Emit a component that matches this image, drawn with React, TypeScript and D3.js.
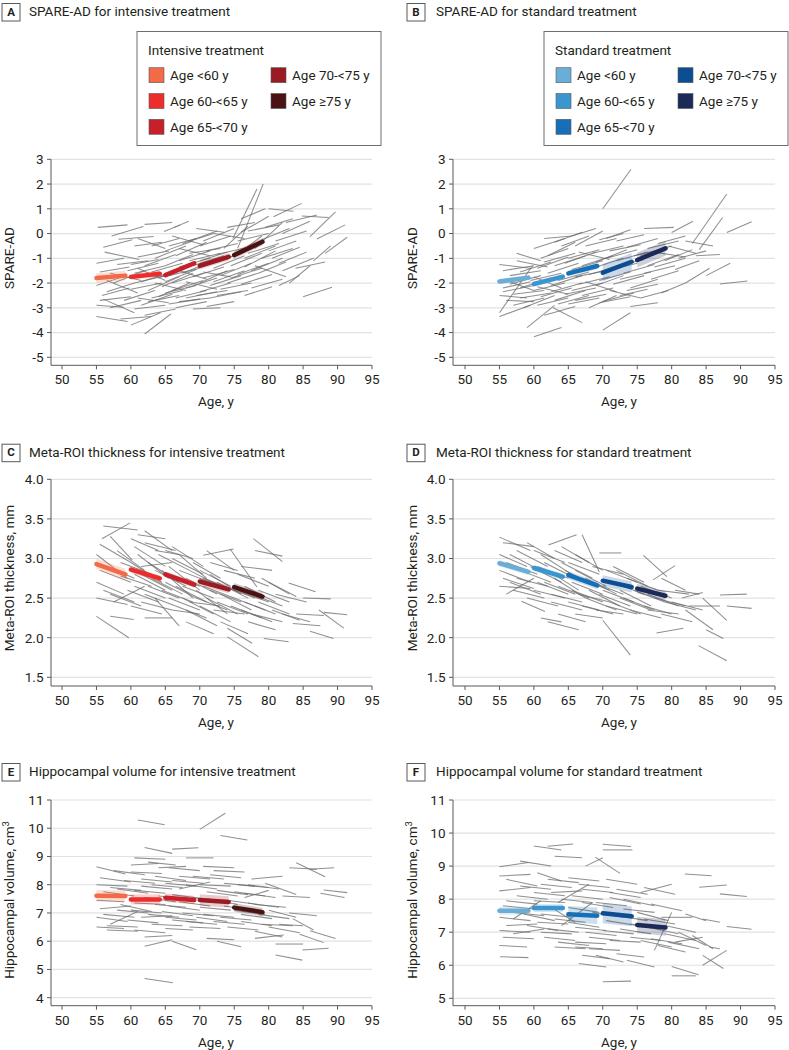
import React from 'react';
import * as d3 from 'd3';

const FONT = "Roboto, 'Noto Sans', sans-serif";

const AGE_TICKS = [50, 55, 60, 65, 70, 75, 80, 85, 90, 95];
const SPARE_TICKS = [-5, -4, -3, -2, -1, 0, 1, 2, 3];
const META_TICKS = [1.5, 2.0, 2.5, 3.0, 3.5, 4.0];
const HIPPO_INT_TICKS = [4, 5, 6, 7, 8, 9, 10, 11];
const HIPPO_STD_TICKS = [5, 6, 7, 8, 9, 10, 11];

const AGE_GROUPS = ['Age <60 y', 'Age 60-<65 y', 'Age 65-<70 y', 'Age 70-<75 y', 'Age \u226575 y'];
const INTENSIVE_COLORS = ['#f36a47', '#ec2d2b', '#c8202a', '#9b1b22', '#4b1214'];
const STANDARD_COLORS = ['#6aaed8', '#3b95cf', '#176fb7', '#0d4d92', '#1b2a57'];

type Seg = [number, number, number, number];
type Trend = [number, number, number, number, number];

// trend: [startAge, startValue, endAge, endValue, CI half-width]
const A_TREND: Trend[] = [
  [55, -1.8, 59.2, -1.7, 0.2], [60, -1.75, 64.2, -1.62, 0.12], [65, -1.68, 69.2, -1.2, 0.1],
  [70, -1.3, 74.2, -0.94, 0.15], [75, -0.87, 79.1, -0.33, 0.15],
];
const B_TREND: Trend[] = [
  [55, -1.94, 59.2, -1.78, 0.1], [60, -2.04, 64.2, -1.74, 0.1], [65, -1.61, 69.2, -1.31, 0.12],
  [70, -1.58, 74.2, -1.14, 0.35], [75, -1.07, 79.1, -0.6, 0.3],
];
const C_TREND: Trend[] = [
  [55, 2.93, 59.2, 2.8, 0.07], [60, 2.86, 64.2, 2.75, 0.04], [65, 2.8, 69.2, 2.67, 0.04],
  [70, 2.71, 74.2, 2.61, 0.05], [75, 2.64, 79.1, 2.52, 0.05],
];
const D_TREND: Trend[] = [
  [55, 2.94, 59.2, 2.83, 0.04], [60, 2.88, 64.2, 2.77, 0.04], [65, 2.79, 69.2, 2.66, 0.05],
  [70, 2.72, 74.2, 2.64, 0.07], [75, 2.62, 79.1, 2.53, 0.06],
];
const E_TREND: Trend[] = [
  [55, 7.61, 59.2, 7.6, 0.2], [60, 7.48, 64.2, 7.48, 0.18], [65, 7.54, 69.2, 7.46, 0.15],
  [70, 7.46, 74.2, 7.39, 0.2], [75, 7.19, 79.1, 7.03, 0.15],
];
const F_TREND: Trend[] = [
  [55, 7.65, 59.2, 7.65, 0.12], [60, 7.73, 64.2, 7.73, 0.12], [65, 7.54, 69.2, 7.5, 0.25],
  [70, 7.57, 74.2, 7.48, 0.3], [75, 7.22, 79.1, 7.14, 0.25],
];

// individual trajectories: [startAge, startValue, endAge, endValue]
const A_SUBJECTS: Seg[] = [
  [55.2, 0.25, 59.5, 0.35], [56.0, -0.55, 60.2, -0.25], [57.2, -0.1, 61.8, 0.28], [55.0, -1.2, 59.0, -1.0],
  [55.5, -1.55, 59.8, -1.35], [56.2, -0.75, 61.2, -1.05], [55.0, -2.1, 59.3, -1.7], [56.5, -2.35, 60.5, -2.0],
  [55.0, -2.9, 59.0, -2.98], [55.5, -2.7, 60.0, -2.55], [56.0, -2.65, 60.5, -3.2], [55.0, -3.35, 59.5, -3.55],
  [57.0, -3.0, 61.5, -2.7], [56.5, -1.9, 61.0, -2.4], [58.0, -1.25, 62.5, -1.1], [57.5, -2.0, 62.0, -1.5],
  [58.5, -3.45, 63.0, -3.35], [55.8, -2.5, 59.8, -2.2], [58.2, -0.23, 63.3, -0.12],
  [62.0, 0.37, 66.0, 0.45], [64.8, 0.08, 67.2, 0.35], [66.2, 0.24, 68.4, 0.5], [60.5, -0.5, 64.5, -0.35],
  [61.0, -0.95, 65.5, -0.7], [60.0, -1.25, 64.0, -1.05], [62.0, -1.3, 66.5, -0.85], [60.5, -1.6, 65.0, -1.3],
  [61.5, -1.95, 66.0, -1.55], [60.0, -2.25, 64.5, -2.0], [62.5, -2.3, 67.0, -1.75], [61.0, -2.6, 65.5, -2.8],
  [63.0, -2.6, 67.5, -2.3], [60.5, -3.05, 65.0, -2.9], [62.0, -3.3, 66.5, -3.05], [60.0, -3.7, 64.3, -3.2],
  [62.0, -4.06, 65.8, -3.25], [63.5, -1.0, 68.0, -0.5], [64.0, -1.8, 68.5, -1.3], [62.5, -2.75, 67.0, -2.5],
  [61.0, -1.4, 65.0, -1.9], [63.0, -0.5, 67.0, -0.2], [64.5, -2.15, 69.0, -1.6],
  [65.5, -0.5, 69.5, -0.2], [66.5, -0.9, 71.0, -0.35], [65.0, -1.3, 69.0, -0.85], [67.0, -1.1, 71.5, -0.7],
  [65.5, -1.7, 70.0, -1.4], [66.0, -2.0, 70.5, -1.6], [67.5, -1.6, 72.0, -1.1], [65.0, -2.4, 69.5, -2.1],
  [66.5, -2.6, 71.0, -2.3], [68.0, -2.2, 72.5, -1.8], [65.5, -2.85, 70.0, -2.65], [67.0, -2.75, 71.5, -2.6],
  [68.5, -0.3, 72.5, 0.1], [66.0, -0.1, 70.5, -0.45], [69.0, -1.3, 73.5, -0.9], [68.0, -1.95, 72.5, -2.25],
  [69.5, -2.5, 74.0, -2.3], [65.0, -0.7, 69.0, -0.3], [67.5, -0.4, 72.0, 0.0], [69.0, -3.05, 73.0, -3.0],
  [66.5, -1.45, 71.0, -1.85], [68.5, -0.8, 73.0, -0.6],
  [70.5, -0.3, 75.0, 0.2], [71.0, -0.7, 75.5, -0.4], [70.0, -1.1, 74.0, -0.75], [72.0, -1.4, 76.5, -0.9],
  [70.5, -1.8, 75.0, -1.45], [71.5, -2.1, 76.0, -1.7], [73.0, -1.7, 77.5, -1.2], [70.0, -2.35, 74.5, -2.0],
  [72.5, -2.5, 77.0, -2.3], [74.0, -2.0, 78.5, -1.6], [71.0, -2.95, 75.0, -2.75], [73.5, -0.6, 77.0, 0.3],
  [74.0, 0.25, 78.0, 0.45], [72.0, 0.0, 76.5, -0.2], [73.5, -1.05, 78.0, -0.55], [70.5, -1.55, 74.5, -1.75],
  [75.5, -0.6, 79.2, 2.0], [74.8, -0.2, 78.3, 1.8], [76.0, 0.6, 79.5, 1.0], [75.0, -0.95, 79.0, -0.1],
  [76.5, -1.35, 81.0, -0.7], [77.0, 0.1, 81.5, 0.35], [75.5, -1.65, 80.0, -1.2], [78.0, -0.6, 82.0, 0.45],
  [77.5, -2.2, 82.0, -1.85], [76.0, -2.05, 80.5, -1.65], [79.0, -1.0, 83.5, -0.6], [78.5, -1.6, 82.5, -1.15],
  [77.0, -0.8, 81.5, -0.4], [79.5, 0.25, 83.5, 0.6], [76.5, -2.5, 80.5, -2.15], [78.0, -1.3, 82.5, -1.75],
  [80.0, 1.0, 83.6, 0.9], [80.7, 0.68, 84.8, 1.22], [82.5, 0.45, 87.0, 0.75], [84.8, 0.71, 88.7, 0.65],
  [86.0, -0.12, 89.7, 0.88], [87.0, -0.22, 91.1, 0.35], [88.2, -0.8, 91.4, -0.15], [85.0, -2.55, 89.2, -2.17],
  [83.0, -2.0, 86.0, -1.3], [83.9, -1.4, 88.2, -1.15], [81.0, -0.3, 85.5, 0.1], [80.5, -1.0, 84.5, -0.55],
  [82.0, -1.5, 86.5, -1.0], [86.5, -1.1, 89.0, -0.5], [81.5, -2.1, 84.5, -1.7],
  [60.5, -2.0, 65.0, -1.7], [61.5, -2.9, 66.0, -2.45], [63.0, -1.55, 67.5, -1.2], [64.0, -2.55, 68.5, -2.0],
  [65.0, -1.95, 69.5, -1.45], [66.0, -2.3, 70.5, -1.9], [67.0, -1.35, 71.5, -1.0], [68.0, -2.6, 72.5, -2.35],
  [69.0, -1.75, 73.5, -1.35], [70.0, -0.5, 74.5, -0.1], [71.0, -1.25, 75.5, -0.85], [72.0, -1.95, 76.5, -1.5],
  [73.0, -2.25, 77.5, -2.0], [74.5, -1.3, 79.0, -0.8], [75.5, -0.3, 80.0, 0.0], [76.5, -1.0, 81.0, -0.5],
  [77.5, -1.5, 82.0, -1.0], [79.0, -0.25, 83.0, 0.2], [80.0, -0.7, 84.0, -0.3], [81.5, -1.2, 85.5, -0.75],
  [59.0, -2.7, 63.5, -2.3], [59.5, -1.5, 64.0, -1.2], [66.5, -3.0, 71.0, -2.75], [71.5, -2.6, 76.0, -2.35],
  [68.5, -1.1, 73.0, -0.8], [72.5, -0.85, 77.0, -0.55], [74.5, -1.8, 79.0, -1.4], [63.5, -2.0, 68.0, -2.3],
  [67.0, -0.6, 71.5, -0.9], [70.0, -2.0, 74.0, -1.5], [61.0, -0.2, 65.0, -0.6], [76.0, 0.05, 80.0, 0.7],
  [82.0, 0.0, 86.0, 0.5], [69.5, 0.2, 73.5, 0.05], [57.0, -1.6, 61.5, -1.9],
];

const B_SUBJECTS: Seg[] = [
  [55.0, -1.25, 59.5, -1.4], [55.5, -1.5, 60.0, -1.3], [55.0, -3.2, 59.8, -1.3], [55.0, -3.35, 59.5, -2.9],
  [56.0, -2.7, 60.0, -2.75], [55.5, -2.2, 59.5, -1.95], [56.5, -1.7, 61.0, -1.5], [55.0, -2.5, 59.0, -2.6],
  [57.0, -2.9, 61.5, -2.6], [57.5, -1.1, 62.0, -1.35], [58.0, -2.2, 62.5, -1.8], [56.0, -1.9, 60.0, -2.3],
  [58.5, -3.0, 63.0, -2.5], [57.0, -2.45, 61.5, -2.3], [59.0, -3.8, 63.0, -2.9], [58.0, -1.55, 62.5, -1.15],
  [60.0, -4.17, 64.0, -3.8], [61.5, -0.2, 65.5, -0.1], [61.0, -1.0, 65.0, -0.6], [60.5, -1.4, 65.0, -0.95],
  [62.0, -1.6, 66.5, -1.2], [60.0, -2.3, 64.5, -2.0], [61.0, -2.55, 65.5, -2.2], [62.5, -2.1, 67.0, -1.7],
  [60.5, -2.9, 65.0, -2.6], [62.8, -3.0, 67.0, -3.6], [61.5, -3.3, 66.0, -2.95], [63.0, -2.7, 67.5, -2.3],
  [64.0, -0.5, 68.0, -0.1], [63.5, -1.9, 68.0, -1.55], [62.0, -0.9, 66.0, -0.35], [64.5, -2.45, 69.0, -2.2],
  [60.0, -1.75, 64.0, -2.2], [63.0, -1.3, 67.5, -0.9],
  [65.5, -0.1, 69.0, 0.2], [66.0, -0.5, 70.0, 0.1], [65.0, -1.0, 69.5, -0.65], [67.0, -1.3, 71.5, -0.9],
  [66.0, -1.75, 70.5, -1.5], [68.0, -1.65, 72.5, -1.3], [65.5, -2.3, 70.0, -2.0], [67.0, -2.5, 71.5, -2.2],
  [69.0, -2.1, 73.0, -1.7], [65.0, -2.85, 69.5, -2.6], [68.0, -3.0, 72.0, -2.5], [69.5, -0.25, 73.0, 0.0],
  [66.5, -0.75, 71.0, -1.05], [68.5, -0.8, 73.0, -0.5], [69.0, -1.15, 73.5, -0.65], [67.5, -1.95, 72.0, -2.35],
  [69.5, -2.8, 74.0, -2.55],
  [70.0, 1.0, 74.1, 2.6], [70.0, -3.9, 74.0, -3.2], [70.5, -0.2, 74.0, 0.15], [71.0, -0.7, 75.5, -0.45],
  [72.0, -1.1, 76.5, -0.75], [70.5, -1.5, 75.0, -1.2], [73.0, -1.6, 77.5, -1.25], [71.5, -2.05, 76.0, -1.7],
  [74.0, -2.95, 78.0, -2.8], [72.5, -2.5, 76.5, -2.25], [70.0, -2.75, 74.5, -2.4], [73.5, -0.55, 78.0, -0.2],
  [74.0, -2.2, 78.0, -1.85], [72.0, -0.3, 76.0, -0.05],
  [76.0, 0.2, 80.3, 0.25], [75.5, -0.9, 80.0, -0.5], [76.5, -1.3, 81.0, -0.85], [77.0, -1.85, 81.0, -1.5],
  [75.5, -2.6, 79.5, -2.3], [78.0, -0.4, 82.0, -0.1], [79.0, -1.1, 83.0, -0.65], [77.5, -0.75, 82.0, -0.95],
  [76.0, -1.6, 80.5, -1.3], [78.5, -2.4, 82.0, -2.0], [79.5, -0.5, 83.5, -0.8],
  [80.0, 0.04, 83.1, 0.5], [83.0, -0.4, 88.0, 1.6], [84.0, -0.65, 87.4, 0.65], [88.0, 0.04, 91.6, 0.48],
  [87.0, -2.04, 91.0, -1.92], [85.0, -1.7, 88.5, -1.2], [82.0, -2.0, 85.5, -1.4], [81.0, -1.0, 85.0, -0.7],
  [83.5, -0.9, 87.0, -0.85], [82.0, -0.3, 86.0, -0.5], [80.5, -1.45, 84.0, -1.1],
  [55.5, -2.35, 60.0, -2.1], [56.5, -2.05, 61.0, -1.7], [58.0, -2.6, 62.5, -2.4], [59.5, -1.9, 64.0, -1.6],
  [60.5, -2.15, 65.0, -2.45], [61.5, -1.15, 66.0, -0.8], [62.5, -2.35, 67.0, -2.0], [63.5, -2.85, 68.0, -2.5],
  [64.5, -1.2, 69.0, -0.75], [65.5, -1.45, 70.0, -1.1], [66.5, -2.05, 71.0, -1.75], [67.5, -0.5, 72.0, -0.2],
  [68.5, -1.4, 73.0, -1.0], [69.5, -1.9, 74.0, -1.55], [70.5, -1.0, 75.0, -0.65], [71.5, -1.35, 76.0, -1.05],
  [72.5, -1.85, 77.0, -1.55], [73.5, -2.3, 78.0, -2.05], [74.5, -0.9, 79.0, -0.6], [76.5, -0.6, 81.0, -0.3],
  [77.5, -1.35, 82.0, -1.0], [63.0, -0.35, 67.0, 0.05], [60.0, -0.6, 64.5, -0.2], [57.5, -0.8, 61.0, -1.1],
  [66.0, -2.7, 70.5, -2.45], [71.0, -2.3, 75.5, -2.6],
];

const C_SUBJECTS: Seg[] = [
  [55.8, 3.25, 59.9, 3.45], [56.0, 3.41, 61.0, 3.36], [55.5, 3.18, 60.0, 2.95], [57.0, 3.28, 60.2, 2.98],
  [55.0, 3.05, 59.5, 2.75], [55.5, 2.85, 60.0, 2.7], [55.0, 2.7, 59.0, 2.55], [56.0, 2.6, 60.5, 2.45],
  [55.0, 2.5, 59.5, 2.42], [57.0, 2.55, 61.5, 2.4], [55.0, 2.27, 59.7, 2.0], [57.0, 2.27, 60.4, 2.23],
  [56.5, 2.9, 60.5, 2.75], [58.0, 3.1, 62.0, 2.85], [57.5, 2.45, 62.0, 2.65], [58.5, 2.78, 63.0, 2.65],
  [60.0, 3.25, 64.0, 3.1], [61.0, 3.3, 65.0, 3.25], [60.5, 3.15, 65.0, 2.9], [62.0, 3.2, 66.5, 3.1],
  [61.0, 3.05, 65.5, 2.75], [60.0, 2.95, 64.5, 2.7], [62.5, 2.95, 67.0, 2.7], [61.5, 2.8, 66.0, 2.6],
  [60.5, 2.65, 65.0, 2.5], [63.0, 2.75, 67.5, 2.55], [62.0, 2.55, 66.5, 2.4], [60.0, 2.4, 64.5, 2.3],
  [62.0, 2.25, 66.0, 2.25], [63.5, 2.5, 67.0, 2.15], [64.0, 3.05, 68.5, 2.85], [61.5, 2.9, 66.0, 2.95],
  [63.5, 3.1, 67.0, 3.05], [64.5, 2.85, 69.0, 2.5],
  [65.0, 3.1, 69.0, 3.0], [66.0, 3.0, 70.5, 2.8], [65.5, 2.9, 70.0, 2.6], [67.0, 2.85, 71.5, 2.7],
  [65.0, 2.7, 69.5, 2.5], [66.5, 2.65, 71.0, 2.45], [68.0, 2.75, 72.5, 2.55], [65.5, 2.5, 70.0, 2.35],
  [67.5, 2.5, 72.0, 2.3], [69.0, 2.95, 73.0, 2.75], [66.0, 2.35, 70.0, 2.3], [68.5, 2.45, 73.0, 2.4],
  [69.5, 2.6, 74.0, 2.3], [67.0, 3.05, 71.0, 2.75], [68.0, 2.2, 72.0, 2.05],
  [70.5, 3.04, 74.9, 3.12], [74.4, 3.12, 78.3, 2.64], [70.0, 2.85, 74.5, 2.65], [71.5, 2.8, 76.0, 2.55],
  [70.5, 2.65, 75.0, 2.5], [72.5, 2.7, 77.0, 2.5], [71.0, 2.5, 75.5, 2.3], [73.0, 2.55, 77.5, 2.35],
  [70.0, 2.4, 74.5, 2.2], [72.0, 2.35, 76.5, 2.3], [74.0, 2.12, 77.6, 1.93], [74.0, 2.01, 78.5, 1.76],
  [73.5, 2.85, 78.0, 2.75], [71.5, 2.95, 75.5, 2.85],
  [77.8, 3.25, 82.0, 2.96], [78.0, 3.1, 82.0, 3.03], [75.5, 2.8, 80.0, 2.65], [76.5, 2.65, 81.0, 2.45],
  [75.0, 2.5, 79.5, 2.35], [77.5, 2.55, 82.0, 2.4], [76.0, 2.35, 80.5, 2.2], [78.5, 2.45, 83.0, 2.3],
  [79.3, 1.99, 82.9, 1.95], [77.0, 2.2, 81.0, 2.1], [79.0, 2.75, 83.0, 2.55], [76.0, 2.9, 80.5, 2.85],
  [82.9, 2.69, 86.8, 2.58], [87.3, 2.35, 90.9, 2.12], [88.0, 2.32, 91.4, 2.29], [86.0, 2.08, 89.4, 1.99],
  [85.0, 2.5, 89.0, 2.49], [83.5, 2.18, 87.5, 2.15], [80.5, 2.35, 84.5, 2.22], [81.0, 2.55, 85.5, 2.45],
  [82.0, 2.3, 86.0, 2.2], [84.0, 2.3, 88.0, 2.28], [80.0, 2.7, 84.0, 2.52],
  [58.5, 2.95, 63.0, 2.8], [59.5, 2.6, 64.0, 2.45], [60.5, 2.8, 65.0, 2.6], [61.5, 2.45, 66.0, 2.35],
  [62.5, 2.65, 67.0, 2.5], [63.5, 2.85, 68.0, 2.65], [64.5, 2.6, 69.0, 2.45], [65.5, 2.8, 70.0, 2.65],
  [66.5, 2.4, 71.0, 2.25], [67.5, 2.65, 72.0, 2.5], [68.5, 2.85, 73.0, 2.65], [69.5, 2.5, 74.0, 2.35],
  [70.5, 2.75, 75.0, 2.6], [71.5, 2.6, 76.0, 2.45], [72.5, 2.45, 77.0, 2.3], [73.5, 2.65, 78.0, 2.5],
  [74.5, 2.4, 79.0, 2.25], [75.5, 2.6, 80.0, 2.45], [76.5, 2.45, 81.0, 2.3], [77.5, 2.3, 82.0, 2.2],
  [78.5, 2.6, 83.0, 2.45], [66.0, 3.15, 70.5, 2.9], [71.0, 3.1, 75.0, 2.85], [62.0, 3.35, 66.0, 3.1],
  [68.0, 2.35, 72.5, 2.15], [73.0, 2.2, 77.0, 2.05],
];

const D_SUBJECTS: Seg[] = [
  [55.0, 3.27, 59.5, 3.1], [55.5, 3.2, 60.0, 3.15], [55.0, 3.05, 59.0, 2.9], [56.0, 2.95, 60.5, 2.8],
  [55.0, 2.85, 59.5, 2.7], [55.5, 2.75, 60.0, 2.62], [55.0, 2.65, 59.5, 2.62], [56.5, 2.7, 61.0, 2.55],
  [57.0, 2.6, 61.5, 2.5], [58.2, 2.46, 61.6, 2.33], [57.5, 3.1, 62.0, 2.9], [58.0, 2.85, 62.5, 2.7],
  [56.0, 2.55, 60.0, 2.75], [59.0, 3.2, 63.0, 3.0],
  [62.1, 3.17, 66.2, 3.3], [60.0, 3.1, 64.5, 2.95], [61.0, 3.05, 65.5, 2.8], [60.5, 2.9, 65.0, 2.75],
  [62.0, 2.85, 66.5, 2.6], [61.5, 2.7, 66.0, 2.55], [63.0, 2.75, 67.5, 2.5], [60.0, 2.6, 64.5, 2.5],
  [62.5, 2.55, 67.0, 2.45], [62.0, 2.2, 66.5, 2.1], [61.0, 2.25, 64.0, 2.2], [63.5, 2.3, 67.5, 2.2],
  [64.0, 2.95, 68.5, 2.75], [63.0, 3.1, 67.0, 2.95],
  [67.0, 3.3, 69.5, 2.83], [65.0, 2.95, 69.5, 2.8], [66.0, 2.85, 70.5, 2.65], [65.5, 2.7, 70.0, 2.55],
  [67.5, 2.75, 72.0, 2.55], [66.5, 2.55, 71.0, 2.45], [68.0, 2.6, 72.5, 2.4], [65.0, 2.45, 69.5, 2.35],
  [67.0, 2.4, 71.5, 2.3], [69.5, 3.07, 72.7, 3.07], [68.5, 2.9, 73.0, 2.8], [66.0, 3.05, 70.0, 2.85],
  [69.0, 2.35, 73.0, 2.3],
  [70.0, 2.22, 74.0, 1.78], [70.5, 2.85, 75.0, 2.7], [71.5, 2.7, 76.0, 2.55], [70.0, 2.6, 74.5, 2.45],
  [72.5, 2.6, 77.0, 2.4], [71.0, 2.45, 75.5, 2.3], [73.0, 2.5, 77.5, 2.35], [72.0, 2.85, 76.5, 2.65],
  [74.0, 2.35, 78.5, 2.25], [73.5, 2.75, 78.0, 2.6],
  [75.9, 3.04, 79.3, 2.77], [77.3, 2.73, 80.5, 2.91], [77.8, 2.06, 81.7, 2.12], [75.5, 2.65, 80.0, 2.5],
  [76.5, 2.55, 81.0, 2.4], [78.0, 2.6, 82.5, 2.55], [79.0, 2.45, 83.5, 2.35], [76.0, 2.4, 80.0, 2.3],
  [78.5, 2.75, 82.0, 2.6],
  [83.9, 1.9, 88.0, 1.71], [87.0, 2.54, 90.9, 2.55], [88.0, 2.4, 91.6, 2.37], [84.5, 2.5, 88.0, 2.22],
  [82.0, 2.35, 86.0, 2.1], [85.0, 2.1, 87.5, 1.99], [81.5, 2.5, 84.5, 2.57], [82.5, 2.4, 87.0, 2.4],
  [80.5, 2.6, 84.0, 2.55],
  [56.5, 3.05, 61.0, 2.85], [57.5, 2.75, 62.0, 2.65], [59.5, 2.9, 64.0, 2.7], [60.5, 2.7, 65.0, 2.55],
  [61.5, 2.95, 66.0, 2.75], [62.5, 2.45, 67.0, 2.35], [63.5, 2.65, 68.0, 2.5], [64.5, 2.85, 69.0, 2.65],
  [65.5, 2.6, 70.0, 2.45], [66.5, 2.75, 71.0, 2.6], [67.5, 2.5, 72.0, 2.35], [68.5, 2.7, 73.0, 2.55],
  [69.5, 2.55, 74.0, 2.4], [70.5, 2.4, 75.0, 2.3], [71.5, 2.9, 76.0, 2.7], [72.5, 2.5, 77.0, 2.35],
  [74.5, 2.6, 79.0, 2.45], [76.5, 2.35, 81.0, 2.3], [77.5, 2.5, 82.0, 2.4], [64.0, 3.15, 68.0, 2.95],
  [59.0, 2.5, 63.5, 2.4], [66.0, 2.3, 70.0, 2.25], [78.5, 2.3, 83.0, 2.2], [80.0, 2.45, 84.5, 2.35],
];

const E_SUBJECTS: Seg[] = [
  [55.0, 8.64, 59.2, 8.38], [55.5, 8.25, 60.0, 8.1], [55.0, 8.0, 59.5, 7.95], [56.0, 7.75, 60.5, 7.6],
  [55.0, 7.45, 59.0, 7.4], [55.5, 7.15, 60.0, 7.25], [56.0, 6.95, 60.5, 6.85], [55.0, 6.85, 59.5, 6.7],
  [56.5, 6.55, 61.0, 6.5], [55.0, 6.5, 59.0, 6.45], [57.0, 6.6, 61.0, 7.05], [57.5, 8.5, 62.0, 8.35],
  [58.0, 7.85, 62.5, 7.7], [56.5, 6.4, 61.0, 6.35], [58.5, 7.3, 63.0, 7.05],
  [61.0, 10.29, 64.9, 10.12], [62.0, 9.32, 66.0, 9.11], [60.5, 8.95, 65.0, 8.9], [62.5, 8.8, 66.5, 8.7],
  [60.0, 8.45, 64.5, 8.4], [61.5, 8.2, 66.0, 8.1], [63.0, 8.0, 67.5, 7.9], [60.5, 7.8, 65.0, 7.7],
  [62.0, 7.55, 66.5, 7.4], [63.5, 7.3, 68.0, 7.2], [60.0, 7.1, 64.5, 7.0], [61.5, 6.85, 66.0, 6.9],
  [63.0, 6.6, 67.5, 6.55], [60.5, 6.4, 65.0, 6.3], [62.0, 6.15, 66.0, 6.2], [62.0, 5.82, 66.0, 6.05],
  [62.0, 4.68, 66.1, 4.53], [64.0, 8.6, 68.0, 8.65], [64.5, 7.05, 69.0, 6.9],
  [66.0, 9.26, 69.8, 9.31], [68.0, 8.95, 72.0, 8.95], [65.5, 8.6, 70.0, 8.5], [67.0, 8.3, 71.5, 8.2],
  [65.0, 8.05, 69.5, 7.95], [68.0, 8.0, 72.5, 7.85], [66.0, 7.65, 70.5, 7.5], [69.0, 7.55, 73.5, 7.4],
  [65.5, 7.25, 70.0, 7.1], [67.5, 7.0, 72.0, 6.9], [66.0, 6.75, 70.5, 6.65], [68.5, 6.5, 73.0, 6.45],
  [66.0, 6.0, 69.5, 5.7], [67.0, 7.85, 71.5, 8.1], [69.5, 6.85, 74.0, 6.7],
  [70.0, 9.96, 73.7, 10.53], [73.0, 9.74, 76.9, 9.58], [70.5, 8.65, 75.0, 8.6], [71.5, 8.35, 76.0, 8.25],
  [70.0, 8.0, 74.5, 7.95], [72.5, 7.8, 77.0, 7.65], [71.0, 7.5, 75.5, 7.3], [73.5, 7.25, 78.0, 7.1],
  [70.5, 6.95, 75.0, 6.85], [72.0, 6.7, 76.5, 6.6], [74.0, 6.5, 78.5, 6.4], [71.0, 6.1, 75.0, 6.05],
  [72.5, 6.0, 76.0, 5.8], [73.5, 8.05, 78.0, 7.95],
  [78.0, 6.1, 82.2, 6.22], [75.5, 8.0, 80.0, 7.9], [76.5, 7.7, 81.0, 7.55], [77.0, 7.35, 81.5, 7.2],
  [75.0, 7.1, 79.5, 6.95], [78.5, 6.95, 83.0, 6.8], [76.0, 6.7, 80.5, 6.55], [79.0, 6.6, 83.5, 6.55],
  [77.5, 8.2, 82.0, 8.3], [79.5, 8.05, 84.0, 7.65], [78.0, 6.35, 82.0, 6.15], [76.5, 7.55, 80.0, 7.8],
  [81.0, 5.51, 84.9, 5.33], [84.9, 5.69, 88.7, 5.75], [84.0, 8.78, 88.2, 8.28], [83.0, 8.6, 87.0, 8.55],
  [86.0, 8.55, 89.5, 8.6], [88.0, 7.81, 91.4, 7.72], [87.5, 7.7, 91.0, 7.55], [86.0, 6.37, 89.7, 6.1],
  [84.5, 6.25, 88.0, 5.95], [81.0, 5.9, 85.0, 5.9], [82.0, 7.6, 86.0, 7.55], [83.0, 7.0, 87.0, 6.9],
  [81.5, 6.6, 85.0, 6.55], [80.0, 7.1, 84.0, 6.85], [83.5, 6.8, 86.5, 6.4],
  [57.0, 7.9, 61.5, 7.8], [58.0, 7.1, 62.5, 7.0], [59.0, 8.15, 63.5, 8.05], [59.5, 6.75, 64.0, 6.65],
  [60.5, 7.35, 65.0, 7.3], [61.5, 7.95, 66.0, 7.85], [62.5, 6.95, 67.0, 6.85], [63.5, 8.3, 68.0, 8.15],
  [64.0, 7.6, 68.5, 7.5], [65.0, 6.85, 69.5, 6.75], [66.0, 8.15, 70.5, 8.05], [67.0, 7.4, 71.5, 7.25],
  [68.0, 6.7, 72.5, 6.6], [69.0, 8.3, 73.5, 8.2], [70.0, 7.2, 74.5, 7.1], [71.0, 7.75, 75.5, 7.6],
  [72.0, 8.5, 76.5, 8.45], [73.0, 6.85, 77.5, 6.75], [74.0, 7.45, 78.5, 7.3], [75.0, 7.75, 79.5, 7.6],
  [76.0, 6.95, 80.5, 6.8], [77.0, 8.0, 81.5, 7.85], [78.0, 7.3, 82.5, 7.2], [80.0, 6.5, 84.5, 6.3],
  [60.0, 8.7, 64.0, 8.75], [65.0, 6.45, 69.0, 6.4],
];

const F_SUBJECTS: Seg[] = [
  [55.0, 8.98, 59.2, 9.11], [55.0, 8.7, 59.5, 8.75], [56.0, 8.6, 60.5, 8.4], [55.0, 8.25, 59.5, 8.35],
  [55.5, 7.8, 60.0, 7.7], [55.0, 7.45, 59.5, 7.35], [56.0, 7.2, 60.5, 7.25], [55.0, 7.05, 59.5, 7.0],
  [55.5, 6.85, 60.0, 6.8], [55.0, 6.6, 59.0, 6.55], [55.1, 6.26, 59.2, 6.23], [57.0, 7.4, 61.0, 7.95],
  [58.0, 9.15, 62.5, 9.0], [57.5, 8.1, 62.0, 8.0], [58.5, 7.55, 63.0, 7.35], [57.0, 6.95, 61.5, 7.1],
  [60.0, 9.61, 64.0, 9.49], [62.0, 9.6, 65.7, 9.67], [63.0, 9.3, 67.0, 9.25], [60.5, 8.8, 64.0, 8.55],
  [61.0, 8.45, 65.5, 8.35], [62.5, 8.2, 67.0, 8.25], [60.0, 7.95, 64.5, 7.9], [63.5, 7.9, 68.0, 8.45],
  [61.0, 7.55, 65.5, 7.45], [60.5, 7.3, 65.0, 7.25], [62.0, 7.1, 66.5, 7.0], [61.5, 6.85, 66.0, 6.75],
  [63.0, 6.55, 67.5, 6.5], [64.0, 7.2, 68.5, 7.9], [62.5, 7.75, 66.0, 7.3],
  [68.9, 9.27, 72.5, 8.78], [67.5, 9.0, 70.0, 9.25], [65.0, 8.65, 69.5, 8.55], [66.5, 8.45, 71.0, 8.35],
  [65.5, 8.1, 70.0, 8.0], [67.0, 7.9, 71.5, 7.75], [68.5, 7.6, 73.0, 7.45], [65.0, 7.3, 69.5, 7.15],
  [67.5, 7.0, 72.0, 6.9], [66.0, 6.7, 70.5, 6.65], [68.0, 6.5, 72.5, 6.45], [66.5, 6.05, 70.5, 5.95],
  [69.0, 6.3, 73.0, 6.1], [66.0, 6.55, 70.0, 6.5],
  [70.0, 9.66, 74.1, 9.59], [70.0, 9.49, 74.3, 9.49], [70.0, 5.5, 74.1, 5.52], [70.5, 8.6, 75.0, 8.45],
  [72.0, 8.3, 76.5, 8.15], [71.0, 8.05, 75.5, 7.85], [73.0, 7.7, 77.5, 7.6], [70.5, 7.35, 75.0, 7.2],
  [72.5, 7.1, 77.0, 6.95], [71.0, 6.75, 75.5, 6.7], [74.0, 6.85, 78.5, 6.75], [72.0, 6.35, 76.0, 6.25],
  [73.5, 6.15, 77.5, 5.95],
  [75.5, 8.2, 80.0, 8.45], [76.0, 8.35, 80.5, 8.15], [77.0, 7.85, 81.5, 7.65], [75.0, 7.6, 79.5, 7.35],
  [78.5, 7.45, 83.0, 7.45], [76.5, 7.15, 81.0, 6.95], [79.0, 6.95, 83.5, 6.75], [75.5, 6.75, 80.0, 6.55],
  [78.0, 6.6, 82.0, 6.4], [77.5, 6.45, 80.0, 7.6], [79.5, 6.7, 84.0, 6.5],
  [80.0, 5.96, 83.9, 5.71], [80.0, 5.68, 83.5, 5.68], [84.5, 6.0, 88.0, 6.45], [84.5, 6.3, 87.5, 5.9],
  [81.9, 8.76, 85.8, 8.71], [84.0, 8.36, 88.0, 8.43], [87.0, 8.16, 90.9, 8.08], [88.0, 7.17, 91.6, 7.09],
  [84.5, 7.4, 87.0, 7.3], [82.0, 7.55, 85.0, 7.35], [81.0, 7.0, 85.0, 6.6], [83.0, 6.9, 86.0, 6.5],
  [85.5, 6.55, 87.0, 6.5], [80.5, 6.7, 84.5, 6.85],
  [56.0, 7.95, 60.5, 7.85], [57.0, 7.6, 61.5, 7.5], [58.0, 8.4, 62.5, 8.3], [59.0, 7.2, 63.5, 7.05],
  [60.0, 8.2, 64.5, 8.1], [61.0, 7.0, 65.5, 6.95], [62.0, 8.6, 66.5, 8.5], [63.0, 7.4, 67.5, 7.3],
  [64.0, 8.0, 68.5, 7.9], [65.0, 7.75, 69.5, 7.6], [66.0, 7.15, 70.5, 7.05], [67.0, 8.3, 71.5, 8.2],
  [68.0, 6.85, 72.5, 6.75], [69.0, 7.9, 73.5, 7.8], [70.0, 7.05, 74.5, 6.95], [71.0, 8.2, 75.5, 8.05],
  [72.0, 7.5, 76.5, 7.35], [73.0, 8.0, 77.5, 7.8], [74.0, 7.25, 78.5, 7.1], [76.0, 7.4, 80.5, 7.25],
  [77.0, 6.8, 81.5, 6.65], [79.0, 7.2, 83.5, 7.0], [67.0, 6.3, 71.0, 6.2], [63.5, 6.7, 68.0, 6.6],
];

const COLS = {
  left: { axisX: 51, xRange: [62, 372], boxX: 2, titleX: 29, ylabX: 14 },
  right: { axisX: 453, xRange: [465, 775], boxX: 407, titleX: 436, ylabX: 417 },
};
const ROWS = {
  r1: { titleBase: 16, yTop: 159.3, xAxisY: 365.3, ylabY: 258 },
  r2: { titleBase: 456.7, yTop: 479.3, xAxisY: 686, ylabY: 578 },
  r3: { titleBase: 776, yTop: 800, xAxisY: 1005.7, ylabY: 900 },
};

const PANELS = [
  { letter: 'A', title: 'SPARE-AD for intensive treatment', col: COLS.left, row: ROWS.r1, yBottom: 357.3,
    ticks: SPARE_TICKS, fmt: (d: number) => String(d), ylabel: 'SPARE-AD', sup: false,
    subjects: A_SUBJECTS, trend: A_TREND, colors: INTENSIVE_COLORS },
  { letter: 'B', title: 'SPARE-AD for standard treatment', col: COLS.right, row: ROWS.r1, yBottom: 357.3,
    ticks: SPARE_TICKS, fmt: (d: number) => String(d), ylabel: 'SPARE-AD', sup: false,
    subjects: B_SUBJECTS, trend: B_TREND, colors: STANDARD_COLORS },
  { letter: 'C', title: 'Meta-ROI thickness for intensive treatment', col: COLS.left, row: ROWS.r2, yBottom: 677.3,
    ticks: META_TICKS, fmt: (d: number) => d.toFixed(1), ylabel: 'Meta-ROI thickness, mm', sup: false,
    subjects: C_SUBJECTS, trend: C_TREND, colors: INTENSIVE_COLORS },
  { letter: 'D', title: 'Meta-ROI thickness for standard treatment', col: COLS.right, row: ROWS.r2, yBottom: 677.3,
    ticks: META_TICKS, fmt: (d: number) => d.toFixed(1), ylabel: 'Meta-ROI thickness, mm', sup: false,
    subjects: D_SUBJECTS, trend: D_TREND, colors: STANDARD_COLORS },
  { letter: 'E', title: 'Hippocampal volume for intensive treatment', col: COLS.left, row: ROWS.r3, yBottom: 997.7,
    ticks: HIPPO_INT_TICKS, fmt: (d: number) => String(d), ylabel: 'Hippocampal volume, cm', sup: true,
    subjects: E_SUBJECTS, trend: E_TREND, colors: INTENSIVE_COLORS },
  { letter: 'F', title: 'Hippocampal volume for standard treatment', col: COLS.right, row: ROWS.r3, yBottom: 998.3,
    ticks: HIPPO_STD_TICKS, fmt: (d: number) => String(d), ylabel: 'Hippocampal volume, cm', sup: true,
    subjects: F_SUBJECTS, trend: F_TREND, colors: STANDARD_COLORS },
];

const LEGENDS = [
  { title: 'Intensive treatment', x: 137, colors: INTENSIVE_COLORS },
  { title: 'Standard treatment', x: 544, colors: STANDARD_COLORS },
];

const TXT = '#231f20';

function Panel({ p }: { p: any }) {
  const { col, row } = p;
  const x = d3.scaleLinear().domain([50, 95]).range(col.xRange);
  const y = d3.scaleLinear().domain([p.ticks[0], p.ticks[p.ticks.length - 1]]).range([p.yBottom, row.yTop]);
  const line = d3.line<[number, number]>().x((d) => x(d[0])).y((d) => y(d[1]));
  const area = d3.area<[number, number, number]>().x((d) => x(d[0])).y0((d) => y(d[1] - d[2])).y1((d) => y(d[1] + d[2]));
  const xEnd = col.xRange[1];
  return (
    <g>
      <rect x={col.boxX} y={row.titleBase - 12.5} width={18} height={17.5} fill="#fff" stroke="#58595b" strokeWidth={1} />
      <text x={col.boxX + 9} y={row.titleBase - 0.5} textAnchor="middle" fontWeight="bold" fontSize={11.5} fill={TXT}>{p.letter}</text>
      <text x={col.titleX} y={row.titleBase} fontSize={13.5} fill={TXT}>{p.title}</text>
      {p.ticks.map((t: number) => (
        <line key={'g' + t} x1={col.axisX} x2={xEnd} y1={y(t)} y2={y(t)} stroke="#e2e2e2" strokeWidth={1.2} />
      ))}
      {p.subjects.map((s: Seg, i: number) => (
        <path key={'s' + i} d={line([[s[0], s[1]], [s[2], s[3]]]) || ''} stroke="#6b6b6b" strokeWidth={1.05} strokeOpacity={0.75} fill="none" />
      ))}
      {p.trend.map((t: Trend, i: number) => (
        <path key={'b' + i} d={area([[t[0], t[1], t[4]], [t[2], t[3], t[4]]]) || ''} fill={p.colors[i]} fillOpacity={0.22} stroke="none" />
      ))}
      {p.trend.map((t: Trend, i: number) => (
        <path key={'t' + i} d={line([[t[0], t[1]], [t[2], t[3]]]) || ''} stroke={p.colors[i]} strokeWidth={4.5} strokeLinecap="round" fill="none" />
      ))}
      <line x1={col.axisX} x2={col.axisX} y1={row.yTop} y2={row.xAxisY} stroke="#58595b" strokeWidth={1} />
      <line x1={col.axisX} x2={xEnd} y1={row.xAxisY} y2={row.xAxisY} stroke="#58595b" strokeWidth={1} />
      {p.ticks.map((t: number) => (
        <g key={'yt' + t}>
          <line x1={col.axisX - 4} x2={col.axisX} y1={y(t)} y2={y(t)} stroke="#58595b" strokeWidth={1} />
          <text x={col.axisX - 7.5} y={y(t) + 4.8} textAnchor="end" fontSize={13.5} fill={TXT}>{p.fmt(t)}</text>
        </g>
      ))}
      {AGE_TICKS.map((t) => (
        <g key={'xt' + t}>
          <line x1={x(t)} x2={x(t)} y1={row.xAxisY} y2={row.xAxisY + 4} stroke="#58595b" strokeWidth={1} />
          <text x={x(t)} y={row.xAxisY + 19} textAnchor="middle" fontSize={13.5} fill={TXT}>{t}</text>
        </g>
      ))}
      <text x={(col.xRange[0] + col.xRange[1]) / 2 - 1} y={row.xAxisY + 41} textAnchor="middle" fontSize={13.5} fill={TXT}>Age, y</text>
      <text transform={`translate(${col.ylabX},${row.ylabY}) rotate(-90)`} textAnchor="middle" fontSize={13.5} fill={TXT}>
        {p.ylabel}
        {p.sup ? <tspan dy={-5} fontSize={9.5}>3</tspan> : null}
      </text>
    </g>
  );
}

function Legend({ l }: { l: any }) {
  const swX = [l.x + 12, l.x + 134];
  const rowTop = [67.7, 93.5, 119.3];
  const pos = [[0, 0], [0, 1], [0, 2], [1, 0], [1, 1]];
  return (
    <g>
      <rect x={l.x} y={31.5} width={244} height={114} fill="#fff" stroke="#6d6e71" strokeWidth={1} />
      <text x={l.x + 11} y={55} fontSize={13.5} fill={TXT}>{l.title}</text>
      {AGE_GROUPS.map((g, i) => {
        const [c, r] = pos[i];
        return (
          <g key={g}>
            <rect x={swX[c]} y={rowTop[r]} width={15} height={15} fill={l.colors[i]} stroke="#58595b" strokeWidth={0.6} />
            <text x={swX[c] + 21} y={rowTop[r] + 12.3} fontSize={13.5} fill={TXT}>{g}</text>
          </g>
        );
      })}
    </g>
  );
}

export default function App() {
  return (
    <svg width={789} height={1050} style={{ position: 'absolute', left: 0, top: 0, background: '#fff' }} fontFamily={FONT}>
      <rect x={0} y={0} width={789} height={1050} fill="#fff" />
      {PANELS.map((p) => <Panel key={p.letter} p={p} />)}
      {LEGENDS.map((l) => <Legend key={l.title} l={l} />)}
    </svg>
  );
}
